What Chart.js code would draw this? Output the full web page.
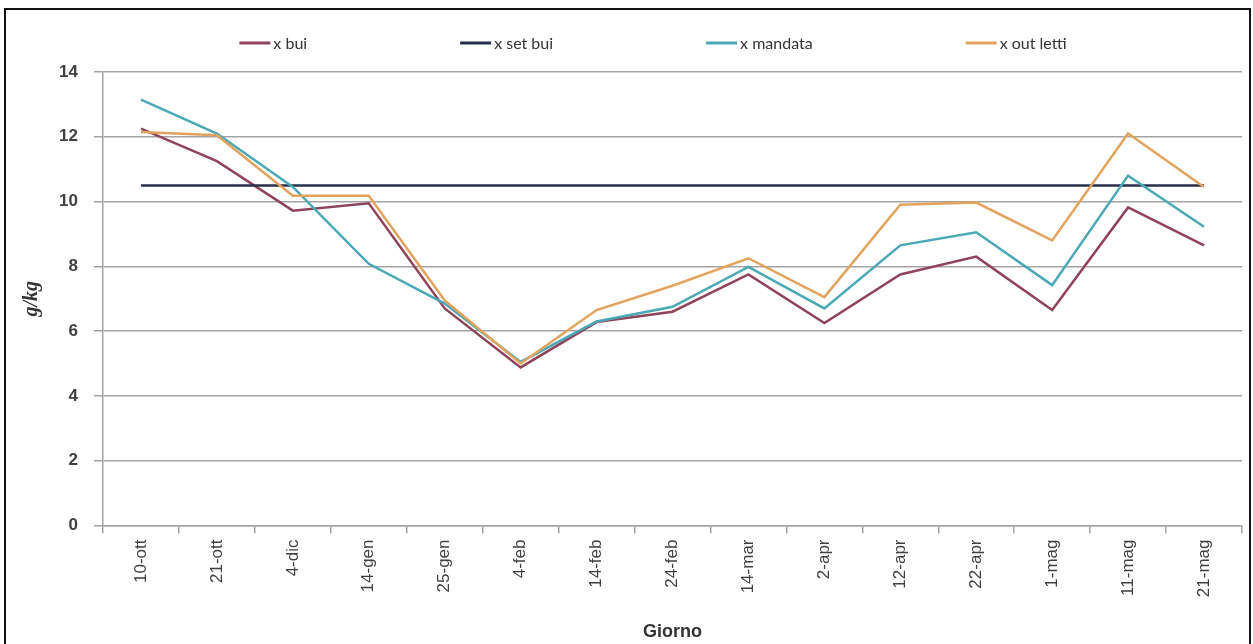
<!DOCTYPE html>
<html>
<head>
<meta charset="utf-8">
<script src="https://cdn.jsdelivr.net/npm/chart.js@4.4.1/dist/chart.umd.min.js"></script>
<style>
  html, body { margin: 0; padding: 0; background: #ffffff; }
  #wrap { position: relative; width: 1253px; height: 644px; }
  canvas { display: block; }
</style>
</head>
<body>
<div id="wrap"><canvas id="c" width="1253" height="644"></canvas></div>
<script>
// Categorie (giorni di misura)
const giorni = ['10-ott', '21-ott', '4-dic', '14-gen', '25-gen', '4-feb', '14-feb', '24-feb',
                '14-mar', '2-apr', '12-apr', '22-apr', '1-mag', '11-mag', '21-mag'];

// Umidità assoluta, g/kg
const xBui      = [12.25, 11.25, 9.72, 9.95, 6.70, 4.88, 6.28, 6.60, 7.75, 6.25, 7.75, 8.30, 6.65, 9.82, 8.65];
const xSetBui   = [10.5, 10.5, 10.5, 10.5, 10.5, 10.5, 10.5, 10.5, 10.5, 10.5, 10.5, 10.5, 10.5, 10.5, 10.5];
const xMandata  = [13.15, 12.10, 10.45, 8.08, 6.85, 5.05, 6.30, 6.75, 7.98, 6.70, 8.65, 9.05, 7.42, 10.80, 9.22];
const xOutLetti = [12.15, 12.05, 10.18, 10.18, 6.95, 5.00, 6.65, 7.40, 8.25, 7.05, 9.90, 9.97, 8.80, 12.10, 10.45];

const yTicks = [0, 2, 4, 6, 8, 10, 12, 14];

const GRID = '#a3a3a3';

// Legenda disegnata in testa, voci distanziate come nel layout originale
const legendaTop = {
  id: 'legendaTop',
  afterDraw(chart) {
    const ctx = chart.ctx;
    const ds = chart.data.datasets;
    ctx.save();
    ctx.font = '16px Lato, "Liberation Sans", sans-serif';
    ctx.textBaseline = 'middle';
    const lineLen = 31, gapText = 3, gap = 153;
    const widths = ds.map(d => lineLen + gapText + ctx.measureText(d.label).width);
    const total = widths.reduce((a, b) => a + b, 0) + gap * (ds.length - 1);
    let x = 653 - total / 2;
    const y = 43;
    ds.forEach((d, i) => {
      ctx.strokeStyle = d.borderColor;
      ctx.lineWidth = 3;
      ctx.beginPath();
      ctx.moveTo(x, y);
      ctx.lineTo(x + lineLen, y);
      ctx.stroke();
      ctx.fillStyle = '#333333';
      ctx.fillText(d.label, x + lineLen + gapText, y + 1);
      x += widths[i] + gap;
    });
    ctx.restore();
  }
};

// Sfondo bianco e cornice nera
const cornice = {
  id: 'cornice',
  beforeDraw(chart) {
    const ctx = chart.ctx;
    ctx.save();
    ctx.fillStyle = '#ffffff';
    ctx.fillRect(0, 0, chart.width, chart.height);
    ctx.restore();
  },
  afterDraw(chart) {
    const ctx = chart.ctx;
    ctx.save();
    ctx.strokeStyle = '#111111';
    ctx.lineWidth = 2;
    ctx.strokeRect(5, 9, 1245, 640);
    ctx.restore();
  }
};

const mkDs = (label, data, color, order) => ({
  label, data,
  borderColor: color,
  backgroundColor: color,
  borderWidth: 2.5,
  pointRadius: 0,
  pointHoverRadius: 0,
  tension: 0,
  fill: false,
  order
});

new Chart(document.getElementById('c'), {
  type: 'line',
  data: {
    labels: giorni,
    datasets: [
      mkDs('x bui', xBui, '#8f4459', 3),
      mkDs('x set bui', xSetBui, '#27304b', 2),
      mkDs('x mandata', xMandata, '#4aa9b6', 1),
      mkDs('x out letti', xOutLetti, '#e2a35c', 0)
    ]
  },
  options: {
    responsive: false,
    animation: false,
    layout: { padding: { top: 72, left: 6, right: 11, bottom: 0 } },
    plugins: {
      legend: { display: false },
      tooltip: { enabled: false }
    },
    scales: {
      x: {
        offset: true,
        grid: {
          offset: true,
          drawOnChartArea: false,
          drawTicks: true,
          tickLength: 8,
          color: GRID,
          lineWidth: 1.5
        },
        border: { display: true, color: GRID, width: 1.5 },
        ticks: {
          autoSkip: false,
          minRotation: 90,
          maxRotation: 90,
          padding: 6,
          color: '#404040',
          font: { family: '"Liberation Sans", Arial, sans-serif', size: 17 }
        },
        title: {
          display: true,
          text: 'Giorno',
          color: '#333333',
          padding: { top: 0, bottom: 1 },
          font: { family: '"Liberation Sans", Arial, sans-serif', size: 18, weight: 'bold' }
        },
        afterFit(scale) { scale.height = 118.5; }
      },
      y: {
        min: 0,
        max: 14,
        afterBuildTicks(scale) { scale.ticks = yTicks.map(v => ({ value: v })); },
        grid: {
          color: GRID,
          lineWidth: 1.5,
          drawTicks: true,
          tickLength: 9
        },
        border: { display: true, color: GRID, width: 1.5 },
        ticks: {
          padding: 16,
          color: '#404040',
          font: { family: '"Liberation Sans", Arial, sans-serif', size: 17, weight: 'bold' }
        },
        title: {
          display: true,
          text: 'g/kg',
          color: '#333333',
          padding: { top: 14, bottom: 0 },
          font: { family: '"Liberation Serif", serif', size: 20, weight: 'bold', style: 'italic' }
        },
        afterFit(scale) { scale.width = 97; }
      }
    }
  },
  plugins: [cornice, legendaTop]
});
</script>
</body>
</html>
